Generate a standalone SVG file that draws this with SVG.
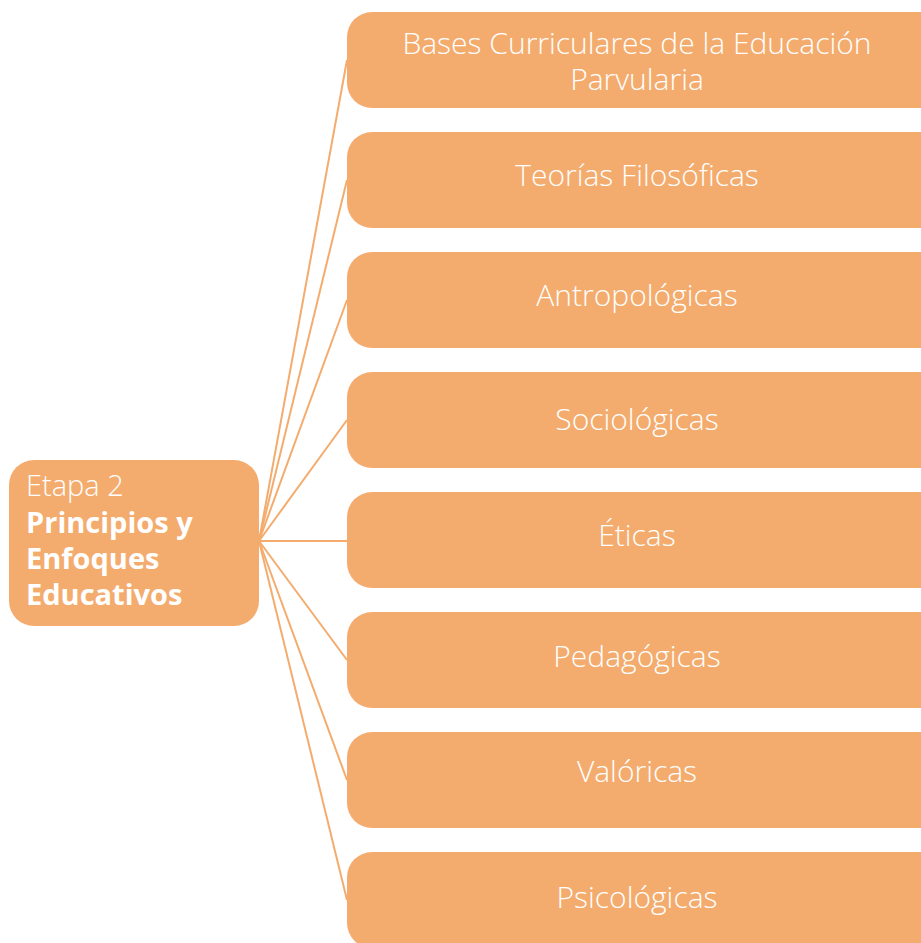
<svg xmlns="http://www.w3.org/2000/svg" width="921" height="943" viewBox="0 0 921 943">
<style>
.box{fill:#F4AC6E;}
.t{fill:#fff;font-family:"Open Sans","Noto Sans",sans-serif;font-weight:300;font-size:30px;text-anchor:middle;}
.l{fill:#fff;font-family:"Open Sans","Noto Sans",sans-serif;font-size:29px;}
.b{font-weight:700;}
.c line{stroke:#F4AC6E;stroke-width:2;}
</style>
<rect width="921" height="943" fill="#fff"/>
<g class="c" id="connectors">
<line x1="259" y1="541" x2="347" y2="60"/>
<line x1="259" y1="541" x2="347" y2="180"/>
<line x1="259" y1="541" x2="347" y2="300"/>
<line x1="259" y1="541" x2="347" y2="420"/>
<line x1="259" y1="541" x2="347" y2="541"/>
<line x1="259" y1="541" x2="347" y2="660"/>
<line x1="259" y1="541" x2="347" y2="780"/>
<line x1="259" y1="541" x2="347" y2="900"/>
</g>
<g id="root"><rect class="box" x="9" y="460" width="250" height="166" rx="25"/>
<text class="l" x="26" y="496" font-weight="300">Etapa 2</text>
<text class="l b" x="26" y="533">Principios y</text>
<text class="l b" x="26" y="569">Enfoques</text>
<text class="l b" x="26" y="605">Educativos</text></g>
<g id="n1"><rect class="box" x="347" y="12" width="600" height="96" rx="25"/><text class="t" x="637" y="54">Bases Curriculares de la Educación</text><text class="t" x="637" y="90">Parvularia</text></g>
<g id="n2"><rect class="box" x="347" y="132" width="600" height="96" rx="25"/><text class="t" x="637" y="186">Teorías Filosóficas</text></g>
<g id="n3"><rect class="box" x="347" y="252" width="600" height="96" rx="25"/><text class="t" x="637" y="306">Antropológicas</text></g>
<g id="n4"><rect class="box" x="347" y="372" width="600" height="96" rx="25"/><text class="t" x="637" y="430">Sociológicas</text></g>
<g id="n5"><rect class="box" x="347" y="492" width="600" height="96" rx="25"/><text class="t" x="637" y="546">Éticas</text></g>
<g id="n6"><rect class="box" x="347" y="612" width="600" height="96" rx="25"/><text class="t" x="637" y="667">Pedagógicas</text></g>
<g id="n7"><rect class="box" x="347" y="732" width="600" height="96" rx="25"/><text class="t" x="637" y="782">Valóricas</text></g>
<g id="n8"><rect class="box" x="347" y="852" width="600" height="96" rx="25"/><text class="t" x="637" y="908">Psicológicas</text></g>
</svg>
